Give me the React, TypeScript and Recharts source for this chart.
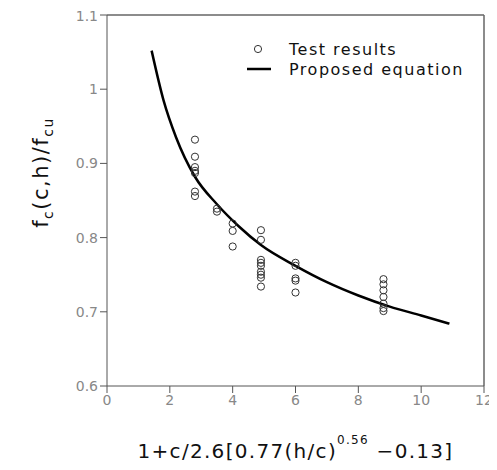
import React from "react";
import {
  ComposedChart,
  Scatter,
  Line,
  XAxis,
  YAxis,
  ReferenceLine,
  Label,
} from "recharts";

// test results, grouped by x position
const testX = [
  2.8, 2.8, 2.8, 2.8, 2.8, 2.8, 2.8,
  3.5, 3.5,
  4.0, 4.0, 4.0,
  4.9, 4.9, 4.9, 4.9, 4.9, 4.9, 4.9, 4.9, 4.9,
  6.0, 6.0, 6.0, 6.0, 6.0,
  8.8, 8.8, 8.8, 8.8, 8.8, 8.8, 8.8,
];
const testY = [
  0.932, 0.909, 0.895, 0.89, 0.887, 0.862, 0.856,
  0.839, 0.835,
  0.819, 0.809, 0.788,
  0.81, 0.797, 0.77, 0.766, 0.762, 0.754, 0.75, 0.746, 0.734,
  0.766, 0.762, 0.745, 0.742, 0.726,
  0.744, 0.737, 0.729, 0.72, 0.711, 0.705, 0.701,
];

// proposed equation curve
const curveX = [1.42, 1.8, 2.2, 2.8, 3.5, 4.2, 4.9, 6.0, 7.0, 8.0, 9.0, 10.0, 10.9];
const curveY = [1.052, 0.985, 0.935, 0.882, 0.845, 0.815, 0.79, 0.762, 0.74, 0.722, 0.707, 0.695, 0.684];

const xTicks = [0, 2, 4, 6, 8, 10, 12];
const yTicks = [0.6, 0.7, 0.8, 0.9, 1, 1.1];

const testData = testX.map((x, i) => ({ x, y: testY[i] }));
const curveData = curveX.map((x, i) => ({ x, y: curveY[i] }));

const font = "'DejaVu Sans', 'Liberation Sans', sans-serif";

const OpenCircle = (props: any) => (
  <circle cx={props.cx} cy={props.cy} r={3.6} fill="none" stroke="#333" strokeWidth={1} />
);

const LegendBox = () => (
  <div
    style={{
      position: "absolute",
      left: 237,
      top: 31,
      fontFamily: font,
      fontSize: 16,
      color: "#111",
      letterSpacing: 1.5,
    }}
  >
    <div style={{ display: "flex", alignItems: "center", height: 20 }}>
      <svg width={44} height={20}>
        <circle cx={13} cy={10} r={3.6} fill="none" stroke="#333" />
      </svg>
      <span>Test results</span>
    </div>
    <div style={{ display: "flex", alignItems: "center", height: 20 }}>
      <svg width={44} height={20}>
        <line x1={2} y1={10} x2={26} y2={10} stroke="#000" strokeWidth={2.5} />
      </svg>
      <span>Proposed equation</span>
    </div>
  </div>
);

const YTitle = ({ viewBox }: any) => {
  const x = viewBox.x + 40;
  const y = viewBox.y + viewBox.height / 2 - 28;
  return (
    <text
      x={x}
      y={y}
      transform={`rotate(-90, ${x}, ${y})`}
      textAnchor="middle"
      fontFamily={font}
      fontSize={21}
      letterSpacing={1.5}
      fill="#111"
    >
      f<tspan fontSize={14} dy={5}>c</tspan>
      <tspan dy={-5}>(c,h)/f</tspan>
      <tspan fontSize={14} dy={5}>cu</tspan>
    </text>
  );
};

const XTitle = ({ viewBox }: any) => {
  const x = viewBox.x + viewBox.width / 2;
  const y = viewBox.y + 72;
  return (
    <text
      x={x}
      y={y}
      textAnchor="middle"
      fontFamily={font}
      fontSize={20}
      letterSpacing={1.3}
      fill="#111"
    >
      1+c/2.6[0.77(h/c)
      <tspan fontSize={12} dy={-14}>0.56</tspan>
      <tspan dy={14}> −0.13]</tspan>
    </text>
  );
};

const tickStyle = { fontFamily: font, fontSize: 14, fill: "#888" };

export default function App() {
  return (
    <div style={{ position: "relative", width: 489, height: 462 }}>
      <ComposedChart
        width={489}
        height={462}
        margin={{ top: 7, right: 13, left: 0, bottom: 0 }}
      >
        <XAxis
          type="number"
          dataKey="x"
          domain={[0, 12]}
          ticks={xTicks}
          height={84}
          stroke="#555"
          tickSize={7}
          tick={tickStyle}
          allowDataOverflow
        >
          <Label content={<XTitle />} />
        </XAxis>
        <YAxis
          type="number"
          dataKey="y"
          domain={[0.6, 1.1]}
          ticks={yTicks}
          width={99}
          stroke="#555"
          tickSize={7}
          tick={tickStyle}
          allowDataOverflow
          tickFormatter={(v: number) => String(Math.round(v * 10) / 10)}
        >
          <Label content={<YTitle />} />
        </YAxis>
        {/* top and right edges of the frame */}
        <ReferenceLine y={1.1} stroke="#666" strokeWidth={1.5} ifOverflow="visible" />
        <ReferenceLine x={12} stroke="#666" strokeWidth={1.5} ifOverflow="visible" />
        <Scatter
          name="Test results"
          data={testData}
          dataKey="y"
          shape={<OpenCircle />}
          isAnimationActive={false}
        />
        <Line
          name="Proposed equation"
          data={curveData}
          dataKey="y"
          type="monotone"
          stroke="#000"
          strokeWidth={2.5}
          dot={false}
          isAnimationActive={false}
        />
      </ComposedChart>
      <LegendBox />
    </div>
  );
}
